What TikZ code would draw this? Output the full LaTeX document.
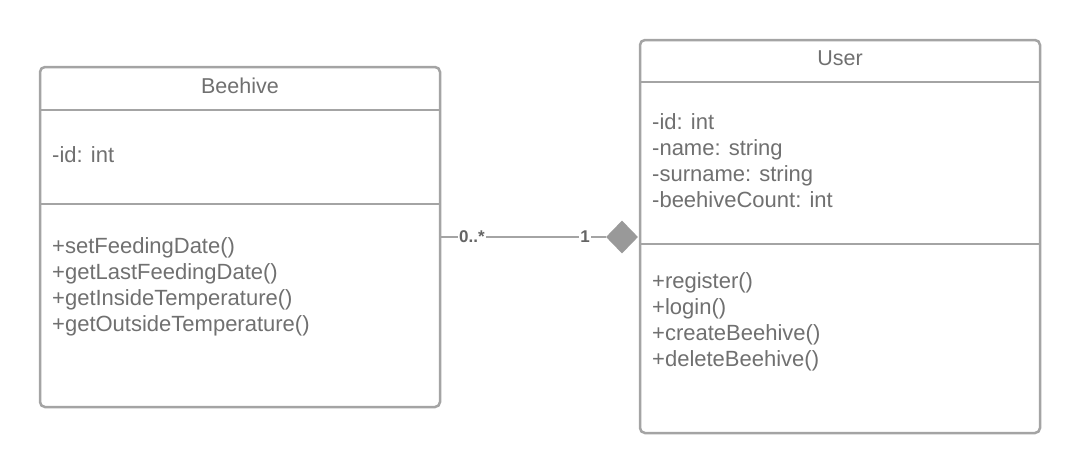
\documentclass[tikz,border=0pt]{standalone}
\usepackage{fontspec}
\setmainfont{Liberation Sans}
\usetikzlibrary{shapes.geometric}
\definecolor{linegray}{HTML}{A4A4A4}
\definecolor{textgray}{HTML}{707070}
\definecolor{diagray}{HTML}{999999}
\begin{document}
\begin{tikzpicture}[x=1pt,y=-1pt,
  classbox/.style={draw=linegray,line width=2.5pt,rounded corners=5pt,fill=white,inner sep=0pt},
  sep/.style={draw=linegray,line width=2.5pt},
  txt/.style={text=textgray,font=\fontsize{22}{26}\selectfont,align=left,inner sep=0pt,anchor=west},
  ttl/.style={text=textgray,font=\fontsize{21.5}{24}\selectfont,inner sep=0pt},
  mult/.style={text=textgray!90!black,font=\bfseries\fontsize{17}{18}\selectfont,fill=white,inner sep=1pt},
  conn/.style={draw=linegray,line width=1.8pt}]
\useasboundingbox (0,0) rectangle (1080,474);
% Beehive
\node[classbox,minimum width=400pt,minimum height=340pt] (bh) at (240,237) {};
\draw[sep] (40,110) -- (440,110);
\draw[sep] (40,204) -- (440,204);
\node[ttl] (bht) at (240,86) {Beehive};
\node[txt] (bha) at (52,155) {-id: int};
\node[txt] (bhm) at (52,287) {+setFeedingDate()\\+getLastFeedingDate()\\+getInsideTemperature()\\+getOutsideTemperature()};
% User
\node[classbox,minimum width=400pt,minimum height=393pt] (us) at (840,236.5) {};
\draw[sep] (640,82) -- (1040,82);
\draw[sep] (640,244) -- (1040,244);
\node[ttl] (ust) at (840,58) {User};
\node[txt] (usa) at (652,161) {-id: int\\-name: string\\-surname: string\\-beehiveCount: int};
\node[txt] (usm) at (652,322) {+register()\\+login()\\+createBeehive()\\+deleteBeehive()};
% connector
\node[diamond,fill=diagray,inner sep=0pt,minimum width=32pt,minimum height=33pt] (dia) at (622,237) {};
\draw[conn] (bh.east |- 0,237) -- (dia.west);
\node[mult] (m1) at (472,237) {0..*};
\node[mult] (m2) at (585,237) {1};
\end{tikzpicture}
\end{document}
